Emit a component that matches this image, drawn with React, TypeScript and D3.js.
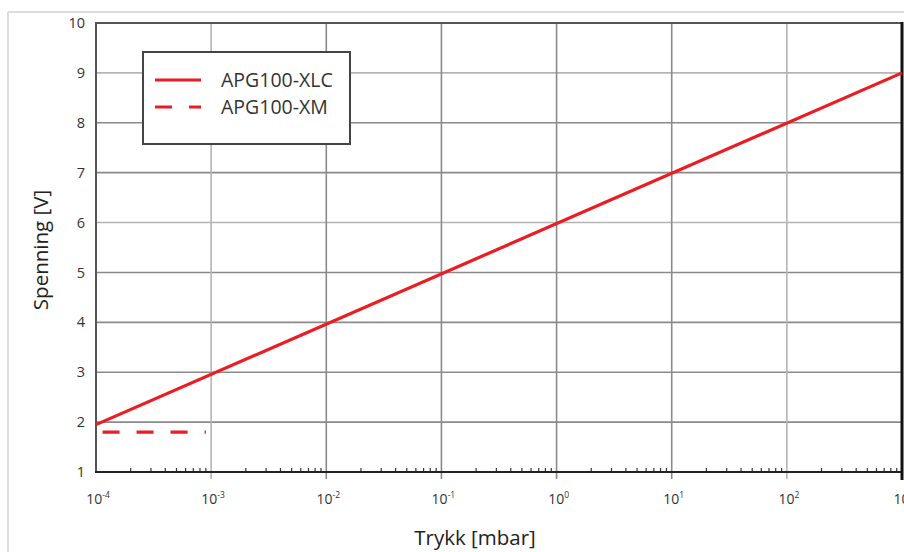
import React from "react";
import * as d3 from "d3";

const decadeExponents = [-4, -3, -2, -1, 0, 1, 2, 3];
const voltageTicks = [1, 2, 3, 4, 5, 6, 7, 8, 9, 10];
const xlcPressure = [1e-4, 1e3];
const xlcVoltage = [1.95, 9];
const xmPressure = [1.14e-4, 9e-4];
const xmVoltage = [1.8, 1.8];
const seriesNames = ["APG100-XLC", "APG100-XM"];
const xTitle = "Trykk [mbar]";
const yTitle = "Spenning [V]";

const W = 904;
const H = 552;
const L = 96;
const R = 902;
const T = 23;
const B = 472;
const RED = "#ec1c24";
const FONT = "'Open Sans', 'Noto Sans', sans-serif";

export default function App() {
  const x = d3.scaleLog().domain([1e-4, 1e3]).range([L, R]);
  const y = d3.scaleLinear().domain([1, 10]).range([B, T]);
  const line = d3
    .line<[number, number]>()
    .x((d) => x(d[0]))
    .y((d) => y(d[1]));
  const xlc = xlcPressure.map((p, i) => [p, xlcVoltage[i]] as [number, number]);
  const xm = xmPressure.map((p, i) => [p, xmVoltage[i]] as [number, number]);

  const minor: number[] = [];
  decadeExponents.slice(0, -1).forEach((e) => {
    for (let k = 2; k <= 9; k++) minor.push(k * Math.pow(10, e));
  });

  return (
    <svg
      width={W}
      height={H}
      style={{ position: "absolute", left: 0, top: 0, background: "#fff" }}
      fontFamily={FONT}
    >
      <rect x={0} y={0} width={W} height={H} fill="#fff" />
      {/* outer light frame */}
      <line x1={8} y1={12} x2={W} y2={12} stroke="#dcdcdc" strokeWidth={2} />
      <line x1={8} y1={12} x2={8} y2={H} stroke="#dcdcdc" strokeWidth={2} />

      {/* horizontal grid */}
      {voltageTicks
        .filter((v) => v > 1 && v < 10)
        .map((v) => (
          <line
            key={"h" + v}
            x1={L}
            x2={R}
            y1={y(v)}
            y2={y(v)}
            stroke={v === 6 || v === 9 ? "#b4b4b4" : "#8a8a8a"}
            strokeWidth={1.6}
          />
        ))}
      {/* vertical grid */}
      {decadeExponents.slice(1, -1).map((e) => (
        <line
          key={"v" + e}
          x1={x(Math.pow(10, e))}
          x2={x(Math.pow(10, e))}
          y1={T}
          y2={B + 7}
          stroke={e === -3 || e === 2 ? "#b4b4b4" : "#8a8a8a"}
          strokeWidth={1.6}
        />
      ))}

      {/* minor ticks */}
      {minor.map((m, i) => (
        <line
          key={"m" + i}
          x1={x(m)}
          x2={x(m)}
          y1={B}
          y2={B - 4}
          stroke="#333"
          strokeWidth={1.2}
        />
      ))}

      {/* frame */}
      <line x1={L} x2={R} y1={T} y2={T} stroke="#555" strokeWidth={2} />
      <line x1={L} x2={L} y1={T - 1} y2={B + 1} stroke="#555" strokeWidth={2} />
      <line x1={L - 1} x2={R} y1={B} y2={B} stroke="#222" strokeWidth={2} />
      <line x1={R} x2={R} y1={T - 1} y2={B + 8} stroke="#111" strokeWidth={3} />

      {/* y tick labels */}
      {voltageTicks.map((v) => (
        <text
          key={"yt" + v}
          x={85}
          y={y(v)}
          dy="0.35em"
          textAnchor="end"
          fontSize={14.5}
          fill="#333"
        >
          {v}
        </text>
      ))}

      {/* x tick labels */}
      {decadeExponents.map((e) => (
        <text
          key={"xt" + e}
          x={x(Math.pow(10, e)) + 2}
          y={504}
          textAnchor="middle"
          fontSize={14}
          fill="#333"
        >
          10
          <tspan fontSize={8.5} dy={-6}>
            {e}
          </tspan>
        </text>
      ))}

      {/* series */}
      <path d={line(xlc) || ""} fill="none" stroke={RED} strokeWidth={3.2} />
      <path
        d={line(xm) || ""}
        fill="none"
        stroke={RED}
        strokeWidth={3.2}
        strokeDasharray="17 17"
      />

      {/* legend */}
      <rect x={143} y={52} width={207} height={92} fill="#fff" stroke="#444" strokeWidth={2} />
      <line x1={155} x2={201} y1={80} y2={80} stroke={RED} strokeWidth={3.2} />
      <line x1={155} x2={201} y1={107} y2={107} stroke={RED} strokeWidth={3.2} strokeDasharray="17 17" />
      <text x={221} y={87} fontSize={19.5} fill="#333">
        {seriesNames[0]}
      </text>
      <text x={221} y={114} fontSize={19.5} fill="#333">
        {seriesNames[1]}
      </text>

      {/* axis titles */}
      <text x={475} y={545} textAnchor="middle" fontSize={20.5} fill="#222">
        {xTitle}
      </text>
      <text
        transform={`translate(48,250) rotate(-90)`}
        textAnchor="middle"
        fontSize={20.5}
        fill="#222"
      >
        {yTitle}
      </text>
    </svg>
  );
}
